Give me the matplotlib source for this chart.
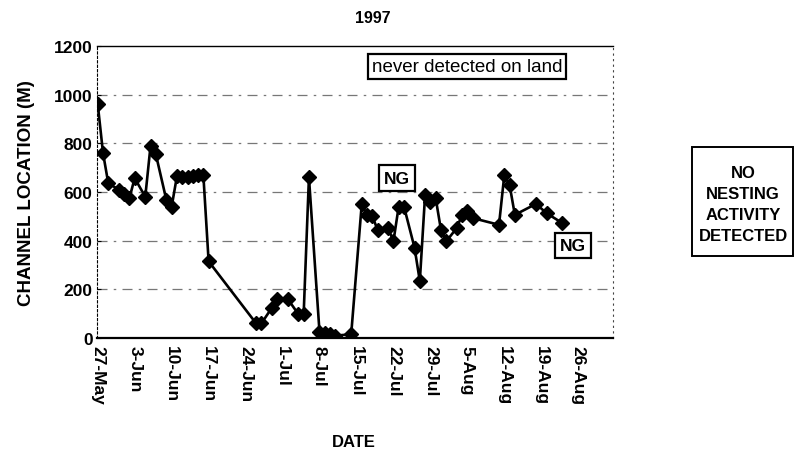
import matplotlib
matplotlib.use("Agg")
import matplotlib.pyplot as plt
import matplotlib.dates as mdates
from matplotlib.patches import Rectangle
import pandas as pd

plt.rcParams['font.family'] = ['Liberation Sans', 'DejaVu Sans']
plt.rcParams['font.weight'] = 'bold'

# survey dates (1997) and channel location (m)
dates = ['5-27', '5-28', '5-29', '5-31', '6-1', '6-2', '6-3', '6-5', '6-6', '6-7',
         '6-9', '6-10', '6-11', '6-12', '6-13', '6-14', '6-15', '6-16', '6-17',
         '6-26', '6-27', '6-29', '6-30', '7-2', '7-4', '7-5', '7-6', '7-8', '7-9',
         '7-10', '7-11', '7-14', '7-16', '7-17', '7-18', '7-19', '7-21', '7-22',
         '7-23', '7-24', '7-26', '7-27', '7-28', '7-29', '7-30', '7-31', '8-1',
         '8-3', '8-4', '8-5', '8-6', '8-11', '8-12', '8-13', '8-14', '8-18',
         '8-20', '8-23']
location = [960, 760, 635, 610, 590, 575, 657, 580, 790, 755,
            567, 540, 665, 663, 662, 665, 668, 670, 315,
            60, 60, 125, 160, 160, 98, 98, 660, 25, 20,
            15, 10, 15, 550, 505, 500, 445, 452, 397,
            540, 540, 371, 234, 588, 560, 575, 445, 397,
            452, 506, 520, 493, 465, 669, 629, 506, 551,
            513, 472]

tick_dates = pd.date_range('1997-05-27', '1997-08-26', freq='7D')
yticks = [0, 200, 400, 600, 800, 1000, 1200]

x = pd.to_datetime(['1997-' + d for d in dates])

fig = plt.figure(figsize=(7.94, 4.6), dpi=100)
ax = fig.add_axes([0.122, 0.263, 0.650, 0.635])

ax.plot(x, location, color='black', lw=1.9, marker='D', ms=7, mfc='black', mec='black')

for v in yticks[1:-1]:
    ax.axhline(v, color='#777777', lw=0.9, ls=(0, (8, 5, 2, 5)), zorder=0)

ax.set_ylim(0, 1200)
ax.set_yticks(yticks)
ax.set_xlim(pd.Timestamp('1997-05-26 20:00'), pd.Timestamp('1997-09-01 14:00'))
ax.set_xticks(tick_dates)
ax.xaxis.set_major_formatter(mdates.DateFormatter('%-d-%b'))
ax.tick_params(axis='x', rotation=270, labelsize=12.5, length=0, pad=5)
ax.tick_params(axis='y', labelsize=12.5, length=3, direction='in', pad=3)
for lab in ax.get_xticklabels() + ax.get_yticklabels():
    lab.set_fontweight('bold')

ax.spines['top'].set_linewidth(1.0)
ax.spines['bottom'].set_linewidth(1.6)
ax.spines['left'].set_linestyle((0, (2, 2)))
ax.spines['right'].set_linestyle((0, (1, 4)))
ax.spines['right'].set_color('#444444')

ax.set_ylabel('CHANNEL LOCATION (M)', fontsize=13.5, fontweight='bold', labelpad=14)
fig.text(0.445, 0.037, 'DATE', ha='center', va='center', fontsize=12, fontweight='bold')
fig.text(0.469, 0.960, '1997', ha='center', va='center', fontsize=11.5, fontweight='bold')

ax.text(pd.Timestamp('1997-08-05'), 1116, 'never detected on land', ha='center', va='center',
        fontsize=13.5, fontweight='normal',
        bbox=dict(boxstyle='square,pad=0.2', fc='white', ec='black', lw=1.6))
ax.text(pd.Timestamp('1997-07-22 16:00'), 657, 'NG', ha='center', va='center', fontsize=12.5,
        bbox=dict(boxstyle='square,pad=0.3', fc='white', ec='black', lw=1.6))
ax.text(pd.Timestamp('1997-08-25'), 380, 'NG', ha='center', va='center', fontsize=12.5,
        bbox=dict(boxstyle='square,pad=0.3', fc='white', ec='black', lw=1.6))

fig.patches.append(Rectangle((692 / 794, 1 - 257 / 460), 101 / 794, 109 / 460,
                             transform=fig.transFigure, fill=False, ec='black', lw=1.4))
fig.text(743 / 794, 1 - 205 / 460, 'NO\nNESTING\nACTIVITY\nDETECTED', ha='center', va='center',
         fontsize=12, fontweight='bold', linespacing=1.5,
         family=['Liberation Sans Narrow', 'Liberation Sans', 'DejaVu Sans'])

fig.savefig('out.png', dpi=100)
